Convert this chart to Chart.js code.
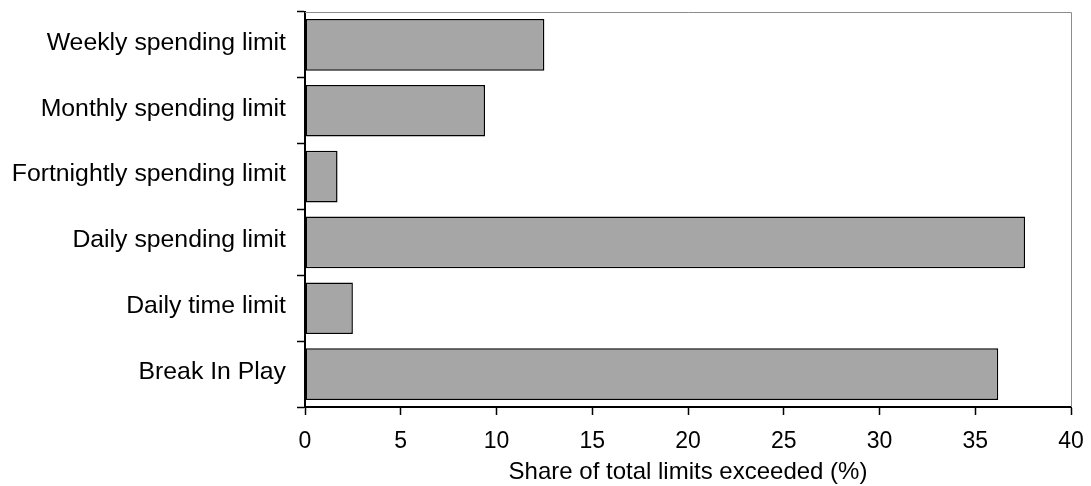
<!DOCTYPE html>
<html>
<head>
<meta charset="utf-8">
<script src="https://cdn.jsdelivr.net/npm/chart.js@4"></script>
<style>
  html, body { margin: 0; padding: 0; background: #fff; }
</style>
</head>
<body>
<canvas id="barChart" width="1091" height="486"></canvas>
<script>
const categories = [
    "Weekly spending limit",
    "Monthly spending limit",
    "Fortnightly spending limit",
    "Daily spending limit",
    "Daily time limit",
    "Break In Play"
];
const shares = [12.5, 9.4, 1.7, 37.6, 2.5, 36.2];
const xMin = 0;
const xMax = 40;
const xStep = 5;
const xTitle = "Share of total limits exceeded (%)";

const FONT = "'Liberation Sans', Arial, sans-serif";

// gray frame on top and right of the plot area
const frame = {
    id: 'frame',
    beforeDatasetsDraw(chart) {
        const { ctx, chartArea: a } = chart;
        ctx.save();
        ctx.strokeStyle = '#8c8c8c';
        ctx.lineWidth = 1;
        ctx.beginPath();
        ctx.moveTo(a.left, a.top + 0.5);
        ctx.lineTo(a.right + 0.5, a.top + 0.5);
        ctx.lineTo(a.right + 0.5, a.bottom);
        ctx.stroke();
        ctx.restore();
    }
};

const ctx = document.getElementById('barChart').getContext('2d');
new Chart(ctx, {
    type: 'bar',
    data: {
        labels: categories,
        datasets: [{
            data: shares,
            backgroundColor: '#a6a6a6',
            borderColor: '#000000',
            borderWidth: 1.5,
            borderSkipped: false,
            barPercentage: 0.785,
            categoryPercentage: 1.0
        }]
    },
    options: {
        indexAxis: 'y',
        responsive: false,
        animation: false,
        layout: {
            padding: { top: 12, right: 20, left: 0, bottom: 0 }
        },
        scales: {
            x: {
                min: xMin,
                max: xMax,
                afterFit(scale) {
                    scale.height = 79;
                    scale.paddingLeft = 0;
                    scale.paddingRight = 0;
                },
                ticks: {
                    stepSize: xStep,
                    color: '#000',
                    padding: 13,
                    maxRotation: 0,
                    font: { size: 23, family: FONT }
                },
                grid: {
                    drawOnChartArea: false,
                    tickLength: 8,
                    tickColor: '#000',
                    tickWidth: 1.5
                },
                border: { color: '#000', width: 2 },
                title: {
                    display: true,
                    text: xTitle,
                    color: '#000',
                    font: { size: 24, family: FONT },
                    padding: { top: 0, bottom: -1 }
                }
            },
            y: {
                afterFit(scale) {
                    scale.width = 305;
                    scale.paddingTop = 0;
                    scale.paddingBottom = 0;
                },
                ticks: {
                    color: '#000',
                    padding: 11,
                    labelOffset: -2,
                    font: { size: 24.8, family: FONT }
                },
                grid: {
                    offset: true,
                    drawOnChartArea: false,
                    tickLength: 8,
                    tickColor: '#000',
                    tickWidth: 1.5
                },
                border: { color: '#000', width: 2 }
            }
        },
        plugins: {
            legend: { display: false },
            tooltip: { enabled: false }
        }
    },
    plugins: [frame]
});
</script>
</body>
</html>
